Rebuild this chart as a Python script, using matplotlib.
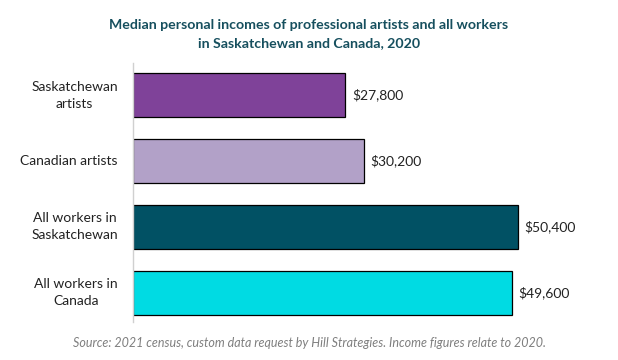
import matplotlib.pyplot as plt
import matplotlib.transforms as mtransforms

plt.rcParams['font.family'] = ['Lato', 'DejaVu Sans']

categories = ["Saskatchewan\nartists", "Canadian artists",
              "All workers in\nSaskatchewan", "All workers in\nCanada"]
incomes = [27800, 30200, 50400, 49600]
colors = ["#7f4299", "#b2a1c8", "#015164", "#00dbe3"]

fig = plt.figure(figsize=(6.18, 3.6), dpi=100)
ax = fig.add_axes([133 / 618, 1 - 322 / 360, (591 - 133) / 618, (322 - 63) / 360])

ypos = list(range(len(categories)))
ax.barh(ypos, incomes, height=0.667, color=colors, edgecolor="black", linewidth=0.9)
for y, v in zip(ypos, incomes):
    ax.text(v + 900, y, f"${v:,}", va="center", ha="left", fontsize=10, color="#222222")

# category labels, centred text block to the left of the axis
trans = mtransforms.blended_transform_factory(ax.transAxes, ax.transData)
label_off = mtransforms.offset_copy(trans, fig=fig, x=-11, y=0, units="points")
for y, name in zip(ypos, categories):
    ax.text(0, y, name, transform=label_off, ha="right", va="center",
            multialignment="center", fontsize=10, color="#222222", linespacing=1.5)

ax.set_xlim(0, 60000)
ax.set_ylim(3.44, -0.485)
ax.set_yticks([])
ax.set_xticks([])
for s in ["top", "right", "bottom"]:
    ax.spines[s].set_visible(False)
ax.spines["left"].set_color("#d0d0d0")
ax.spines["left"].set_linewidth(1)

fig.text(0.5, 0.905, "Median personal incomes of professional artists and all workers\nin Saskatchewan and Canada, 2020",
         ha="center", va="center", fontsize=10.2, fontweight="bold", color="#164f5e", linespacing=1.6)
fig.text(0.5, 0.047, "Source: 2021 census, custom data request by Hill Strategies. Income figures relate to 2020.",
         ha="center", va="center", fontsize=9, style="italic", color="#7f7f7f")

fig.savefig("out.png", dpi=100)
